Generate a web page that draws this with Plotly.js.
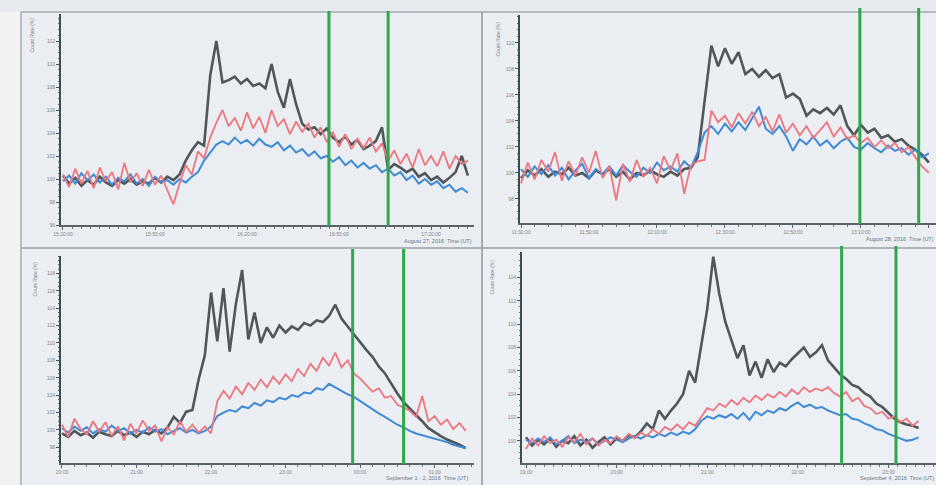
<!DOCTYPE html>
<html><head><meta charset="utf-8">
<script src="https://cdn.plot.ly/plotly-3.0.1.min.js"></script>
<style>html,body{margin:0;padding:0;background:#f1f2f4;}#chart{width:936px;height:485px;}</style>
</head><body><div id="chart"></div>
<script>
// ---------- Panel 1: August 27, 2016 (minutes after 15:20 UT, 2-min samples)
const p1Step = 2;
const p1Gray = [100.3,99.6,100.1,99.4,99.9,99.5,100.2,99.7,99.4,99.9,
 99.6,100.0,99.5,99.8,99.6,100.1,99.7,100.2,99.9,100.4,
 101.6,102.5,103.2,102.9,109.0,112.0,108.4,108.6,108.9,108.3,
 108.7,108.1,108.3,107.9,110.0,107.6,106.2,108.7,106.5,104.8,
 104.3,104.5,103.9,104.4,103.6,103.2,103.7,103.0,103.4,102.6,
 102.9,103.3,104.5,100.8,101.3,101.0,100.6,100.9,100.2,100.5,
 99.9,100.2,99.7,100.1,100.6,102.0,100.3];
const p1Red = [100.4,99.3,100.9,99.6,100.7,99.2,101.0,99.8,100.6,99.1,
 101.4,99.7,100.5,99.4,100.8,99.5,100.3,99.0,97.8,99.6,
 101.2,100.4,102.4,101.8,103.6,104.9,106.0,104.6,105.3,104.2,
 105.8,104.4,105.4,104.0,106.0,104.6,105.2,103.9,105.0,104.1,
 104.8,103.6,104.5,103.2,104.1,102.8,103.9,102.6,103.5,102.7,
 103.6,102.4,103.1,101.6,102.5,101.3,102.2,101.0,102.6,101.2,
 102.0,101.1,102.4,100.9,102.0,101.3,101.6];
const p1Blue = [99.8,100.3,99.6,100.5,99.9,100.4,99.7,100.2,99.5,100.1,
 99.8,100.4,99.6,100.0,99.4,100.2,99.7,99.9,99.5,100.0,
 99.7,100.2,100.6,101.6,102.3,103.0,103.3,103.0,103.6,103.1,
 103.4,102.9,103.5,103.0,102.8,103.2,102.5,102.9,102.3,102.6,
 102.0,102.4,101.8,102.0,101.5,101.9,101.2,101.6,101.0,101.4,
 100.9,101.2,100.6,100.9,100.3,100.6,99.9,100.3,99.6,100.0,
 99.5,99.8,99.2,99.5,98.9,99.2,98.8];
const p1Green = [86.7, 106.0];
const p1TickVals = [0,30,60,90,120];
const p1TickText = ["15:20:00","15:50:00","16:20:00","16:50:00","17:20:00"];
const p1YTicks = [96,98,100,102,104,106,108,110,112];
const p1Caption = "August 27, 2016  Time (UT)";

// ---------- Panel 2: August 28, 2016 (minutes after 11:30 UT, 2-min samples)
const p2Step = 2;
const p2Gray = [99.6,100.2,99.8,100.3,99.7,100.1,99.9,100.4,99.8,100.0,
 99.6,100.2,99.9,100.3,99.7,100.1,99.5,100.0,99.8,100.2,
 99.9,99.7,100.1,99.8,100.3,100.4,101.2,105.6,109.8,108.2,
 109.6,108.4,109.3,107.6,108.0,107.4,107.9,107.3,107.6,105.8,
 106.1,105.7,104.4,104.9,104.6,105.0,104.5,105.2,103.6,102.9,
 103.7,103.1,103.4,102.7,102.9,102.4,102.6,102.1,101.8,101.4,
 100.8];
const p2Red = [99.2,100.8,99.5,101.0,100.1,101.6,99.4,100.9,99.8,101.2,
 100.0,101.7,99.6,100.5,97.9,100.7,99.3,101.0,99.7,100.4,
 99.2,101.3,100.2,101.5,98.4,100.6,100.9,101.0,104.8,103.9,
 104.4,103.5,104.6,103.8,104.7,103.6,104.3,103.2,104.5,103.1,
 103.8,102.9,103.6,102.7,103.3,103.9,102.8,103.5,102.6,102.9,
 102.3,102.7,102.0,102.5,101.9,102.3,101.6,102.0,101.2,100.5,
 100.0];
const p2Blue = [100.3,99.7,100.5,99.9,100.6,99.8,100.4,99.5,100.2,100.7,
 99.6,100.3,99.9,100.5,99.8,100.6,100.1,99.7,100.4,100.0,
 100.8,100.2,100.5,100.1,100.9,100.4,101.6,103.1,103.6,103.0,
 103.8,103.2,103.9,103.3,104.2,105.1,103.4,103.0,103.6,102.8,
 101.7,102.6,102.2,102.8,102.1,102.5,101.9,102.4,102.7,102.0,
 101.8,102.3,101.9,101.6,102.1,101.7,101.9,101.4,101.8,101.2,
 101.5];
const p2Green = [99.7, 117.0];
const p2TickVals = [0,20,40,60,80,100,120];
const p2TickText = ["11:30:00","11:50:00","12:10:00","12:30:00","12:50:00","13:10:00","13:30:00"];
const p2YTicks = [96,98,100,102,104,106,108,110];
const p2Caption = "August 28, 2016  Time (UT)";

// ---------- Panel 3: September 1 - 2, 2016 (minutes after 20:00 UT, 5-min samples)
const p3Step = 5;
const p3Gray = [99.6,99.2,99.9,99.4,99.7,99.1,99.8,99.5,99.3,99.9,99.4,99.7,99.2,99.8,99.5,100.0,99.6,100.3,
 101.5,100.8,102.1,102.3,105.8,108.6,115.8,110.2,116.3,109.0,114.5,118.4,110.4,113.5,
 110.0,111.8,110.6,112.0,111.2,111.9,111.5,112.3,112.0,112.6,112.4,113.1,114.4,112.8,111.9,111.0,110.0,109.2,
 108.4,107.3,106.5,105.3,104.2,103.2,102.5,101.8,101.0,100.2,99.7,99.3,98.9,98.6,98.3,97.9];
const p3Red = [100.6,99.2,101.3,100.1,99.5,101.0,99.8,100.9,99.3,100.4,
 98.8,100.7,99.6,101.1,99.9,100.5,98.7,100.3,99.5,101.0,
 99.8,100.6,99.7,100.4,99.6,103.3,104.5,103.6,105.0,104.1,
 105.4,104.6,105.8,104.9,106.1,105.3,106.4,105.6,107.0,106.2,
 107.6,106.8,108.3,107.4,108.9,107.2,108.0,106.5,105.9,105.2,
 104.4,104.8,103.7,103.9,102.9,102.6,102.2,101.5,103.9,101.0,
 101.6,100.6,101.2,100.1,100.8,99.9];
const p3Blue = [100.2,99.7,100.4,99.9,100.3,99.6,100.1,99.8,100.5,99.9,
 100.2,99.6,100.0,99.7,100.3,99.8,100.1,99.5,99.9,100.2,
 99.7,100.0,99.6,99.9,100.4,101.6,102.0,102.3,102.1,102.7,
 102.5,103.1,102.8,103.4,103.2,103.7,103.5,104.0,103.8,104.3,
 104.2,104.8,104.6,105.3,104.9,104.5,104.1,103.8,103.3,102.8,
 102.4,101.9,101.5,101.0,100.6,100.3,99.9,99.6,99.4,99.2,
 99.0,98.8,98.6,98.3,98.1,97.9];
const p3Green = [234, 275];
const p3TickVals = [0,60,120,180,240,300];
const p3TickText = ["20:00","21:00","22:00","23:00","00:00","01:00"];
const p3YTicks = [96,98,100,102,104,106,108,110,112,114,116,118];
const p3Caption = "September 1 - 2, 2016  Time (UT)";

// ---------- Panel 4: September 4, 2016 (minutes after 19:00 UT, 4-min samples)
const p4Step = 4;
const p4Gray = [100.3,99.6,100.1,99.7,100.2,99.5,100.0,99.8,100.4,99.6,100.1,99.4,99.9,100.3,99.7,100.2,100.0,100.5,100.3,
 100.8,101.5,101.0,102.6,101.9,102.6,103.2,104.0,106.0,105.0,
 108.0,111.3,115.8,112.6,110.2,108.6,107.1,108.2,105.6,106.8,
 105.4,107.0,105.9,106.7,106.4,107.0,107.5,108.0,107.2,107.6,
 108.2,106.9,106.3,105.7,105.3,104.8,104.6,104.1,103.8,103.2,
 102.9,102.4,101.9,101.6,101.4,101.3,101.1];
const p4Red = [99.3,100.2,99.6,100.4,99.8,100.1,99.5,100.3,99.9,100.6,
 99.7,100.2,99.6,100.1,99.8,100.4,100.0,100.6,100.2,100.7,
 100.4,101.0,100.6,101.2,100.9,101.4,101.0,101.6,101.3,102.1,
 102.8,102.6,103.2,102.9,103.5,103.1,103.7,103.3,103.9,103.5,
 104.0,103.7,104.2,103.8,104.4,104.0,104.6,104.2,104.5,104.3,
 104.6,104.1,103.8,104.2,103.4,103.7,103.0,102.8,102.3,102.5,
 101.9,102.1,101.6,101.9,101.3,101.7];
const p4Blue = [100.1,99.8,100.2,99.9,100.3,99.7,100.0,100.4,99.8,100.1,
 99.9,100.2,99.7,100.0,100.3,100.1,99.9,100.2,100.4,100.2,
 100.5,100.3,100.6,100.4,100.7,100.5,100.8,100.6,101.0,101.7,
 102.1,101.9,102.2,102.0,102.3,101.9,102.4,101.8,102.5,102.2,
 102.6,102.4,102.8,102.6,103.0,103.3,102.9,103.1,102.8,102.9,
 102.6,102.4,102.2,102.3,101.9,101.8,101.5,101.3,101.0,100.9,
 100.6,100.4,100.2,100.0,100.1,100.3];
const p4Green = [209, 245];
const p4TickVals = [0,60,120,180,240];
const p4TickText = ["19:00","20:00","21:00","22:00","23:00"];
const p4YTicks = [98,100,102,104,106,108,110,112,114];
const p4Caption = "September 4, 2016  Time (UT)";

const yTitle = "Count Rate (%)";

// ---------- layout geometry (pixels)
const W = 936, H = 485;
const fx = px => px / W;
const fy = py => 1 - py / H;

const panels = [
  {gray:p1Gray, red:p1Red, blue:p1Blue, step:p1Step, green:p1Green, tv:p1TickVals, tt:p1TickText, yt:p1YTicks, cap:p1Caption,
   xd:[61,474], yd:[14,225], xr:[-0.65,134], yr:[96,114.35], mx:3, gTop:11, capX:474, capY:241, tX:31, tY:16},
  {gray:p2Gray, red:p2Red, blue:p2Blue, step:p2Step, green:p2Green, tv:p2TickVals, tt:p2TickText, yt:p2YTicks, cap:p2Caption,
   xd:[520,936], yd:[15,223], xr:[-0.3,122.1], yr:[96.15,112.15], mx:4, gTop:8, capX:936, capY:239, tX:498, tY:20},
  {gray:p3Gray, red:p3Red, blue:p3Blue, step:p3Step, green:p3Green, tv:p3TickVals, tt:p3TickText, yt:p3YTicks, cap:p3Caption,
   xd:[61,474], yd:[256,463], xr:[-0.8,331.7], yr:[96.2,120], mx:10, gTop:249, capX:470, capY:478, tX:34, tY:260},
  {gray:p4Gray, red:p4Red, blue:p4Blue, step:p4Step, green:p4Green, tv:p4TickVals, tt:p4TickText, yt:p4YTicks, cap:p4Caption,
   xd:[522,936], yd:[252,463], xr:[-2.65,271.5], yr:[98.1,116.2], mx:6, gTop:246, capX:936, capY:478, tX:491, tY:258}
];

const traces = [];
const layout = {
  width: W, height: H,
  margin: {l:0, r:0, t:0, b:0},
  paper_bgcolor: '#f1f2f4',
  plot_bgcolor: 'rgba(0,0,0,0)',
  showlegend: false,
  font: {family: 'Liberation Sans, Arial, sans-serif', color: '#7a8086'},
  shapes: [
    // panel backgrounds
    {type:'rect', xref:'paper', yref:'paper', x0:fx(21), x1:fx(482), y0:fy(248), y1:fy(12), fillcolor:'#eaedf1', line:{width:0}, layer:'below'},
    {type:'rect', xref:'paper', yref:'paper', x0:fx(482), x1:1, y0:fy(248), y1:fy(12), fillcolor:'#ebeef2', line:{width:0}, layer:'below'},
    {type:'rect', xref:'paper', yref:'paper', x0:fx(21), x1:fx(482), y0:0, y1:fy(248), fillcolor:'#ebeef2', line:{width:0}, layer:'below'},
    {type:'rect', xref:'paper', yref:'paper', x0:fx(482), x1:1, y0:0, y1:fy(248), fillcolor:'#eceff3', line:{width:0}, layer:'below'},
    {type:'rect', xref:'paper', yref:'paper', x0:0, x1:1, y0:fy(12), y1:1, fillcolor:'#e7eaee', line:{width:0}, layer:'below'},
    // frame / divider lines
    {type:'line', xref:'paper', yref:'paper', x0:fx(21), x1:fx(21), y0:0, y1:fy(12), line:{color:'#a4abb1', width:1.5}},
    {type:'line', xref:'paper', yref:'paper', x0:fx(21), x1:1, y0:fy(12), y1:fy(12), line:{color:'#a4abb1', width:1.5}},
    {type:'line', xref:'paper', yref:'paper', x0:fx(482), x1:fx(482), y0:0, y1:fy(12), line:{color:'#8f979d', width:1.5}},
    {type:'line', xref:'paper', yref:'paper', x0:fx(21), x1:1, y0:fy(248), y1:fy(248), line:{color:'#9aa1a7', width:1.5}}
  ],
  annotations: []
};

panels.forEach((p, k) => {
  const n = k === 0 ? '' : String(k + 1);
  const xa = 'x' + n, ya = 'y' + n;
  const mk = (vals, color, width) => ({
    type:'scatter', mode:'lines', x: vals.map((_, i) => i * p.step), y: vals,
    xaxis: xa, yaxis: ya, line:{color, width}, hoverinfo:'skip'
  });
  traces.push(mk(p.gray, '#50575b', 2.6));
  traces.push(mk(p.blue, '#3f8ad6', 2.0));
  traces.push(mk(p.red, '#ec777f', 1.8));

  layout['xaxis' + n] = {
    domain:[fx(p.xd[0]), fx(p.xd[1])], range:p.xr, anchor: ya,
    tickmode:'array', tickvals:p.tv, ticktext:p.tt,
    tickfont:{size:5, color:'#80868c'},
    showline:true, linecolor:'#5c6368', linewidth:1.5,
    ticks:'outside', ticklen:3, tickcolor:'#5c6368', tickwidth:1,
    showgrid:false, zeroline:false,
    minor:{ticks:'outside', ticklen:2, tick0:0, dtick:p.mx, tickcolor:'#6a7176', showgrid:false}
  };
  layout['yaxis' + n] = {
    domain:[fy(p.yd[1]), fy(p.yd[0])], range:p.yr, anchor: xa,
    tickmode:'array', tickvals:p.yt, ticktext:p.yt.map(String),
    tickfont:{size:5, color:'#80868c'},
    showline:true, linecolor:'#3f4c4e', linewidth:2,
    ticks:'outside', ticklen:3, tickcolor:'#4a5557',
    showgrid:false, zeroline:false,
    minor:{ticks:'outside', ticklen:1.5, tick0:0, dtick:0.5, tickcolor:'#6a7176', showgrid:false}
  };
  p.green.forEach(g => {
    layout.shapes.push({type:'line', xref:xa, yref:'paper', x0:g, x1:g,
      y0:fy(p.yd[1] + 1), y1:fy(p.gTop), line:{color:'#2fa84c', width:3}});
  });
  layout.annotations.push({xref:'paper', yref:'paper', x:fx(p.capX), y:fy(p.capY),
    xanchor:'right', yanchor:'middle', showarrow:false, text:p.cap,
    font:{size:5.5, color:'#6f757b'}});
  layout.annotations.push({xref:'paper', yref:'paper', x:fx(p.tX), y:fy(p.tY),
    xanchor:'center', yanchor:'top', textangle:-90, showarrow:false, text:yTitle,
    font:{size:5, color:'#7d8389'}});
});

Plotly.newPlot('chart', traces, layout, {staticPlot:true, displayModeBar:false});
</script>
</body></html>
